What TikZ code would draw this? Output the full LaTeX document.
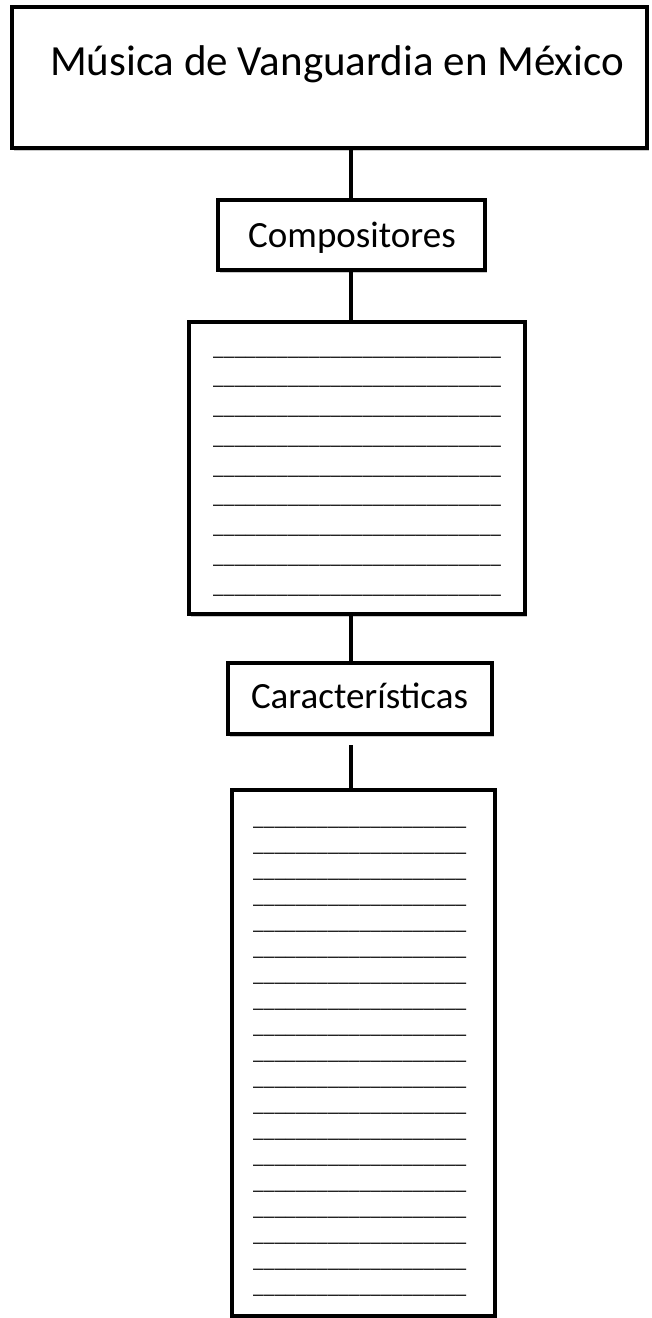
\documentclass[tikz,border=0pt]{standalone}
\usepackage{fontspec}
\setmainfont{Carlito}
\usetikzlibrary{shadows,calc}
\begin{document}
\begin{tikzpicture}[x=1pt,y=-1pt,
  box/.style={draw=black,line width=4pt,fill=white,rectangle,inner sep=0pt,
    drop shadow={shadow xshift=2pt,shadow yshift=-2.5pt,opacity=0.35,fill=black!60}},
  conn/.style={draw=black,line width=4pt},
  title/.style={inner sep=0pt,anchor=base,font=\fontsize{43}{51}\selectfont},
  label/.style={inner sep=0pt,anchor=base,font=\fontsize{37}{44}\selectfont},
  rule/.style={inner sep=0pt,anchor=base west,font=\fontsize{21.4}{26}\selectfont}
]
\useasboundingbox (0,0) rectangle (652,1318);
\fill[white] (0,0) rectangle (652,1318);
\coordinate (spine) at (351,0);

\node[box,minimum width=635pt,minimum height=141pt] (top) at (329.5,77.5) {};
\node[title] (toptxt) at (337,75) {Música de Vanguardia en México};

\node[box,minimum width=267pt,minimum height=70pt] (comp) at (351.5,235) {};
\node[label] (comptxt) at (352,247) {Compositores};

\node[box,minimum width=336pt,minimum height=292pt] (b3) at (357,468) {};
\foreach \i in {0,...,8}{
  \node[rule] (ua\i) at (213,{355+29.75*\i}) {\_\_\_\_\_\_\_\_\_\_\_\_\_\_\_\_\_\_\_\_\_\_\_\_\_\_\_};
}

\node[box,minimum width=264pt,minimum height=71pt] (car) at (360,698.5) {};
\node[label] (cartxt) at (359.5,708) {Características};

\node[box,minimum width=263pt,minimum height=526pt] (b5) at (363.5,1053) {};
\foreach \i in {0,...,18}{
  \node[rule] (ub\i) at (253,{825+26*\i}) {\_\_\_\_\_\_\_\_\_\_\_\_\_\_\_\_\_\_\_\_};
}

\draw[conn] (top.south -| spine) -- (comp.north -| spine);
\draw[conn] (comp.south -| spine) -- (b3.north -| spine);
\draw[conn] (b3.south -| spine) -- (car.north -| spine);
\draw[conn,shorten <=9pt] (car.south -| spine) -- (b5.north -| spine);
\end{tikzpicture}
\end{document}
